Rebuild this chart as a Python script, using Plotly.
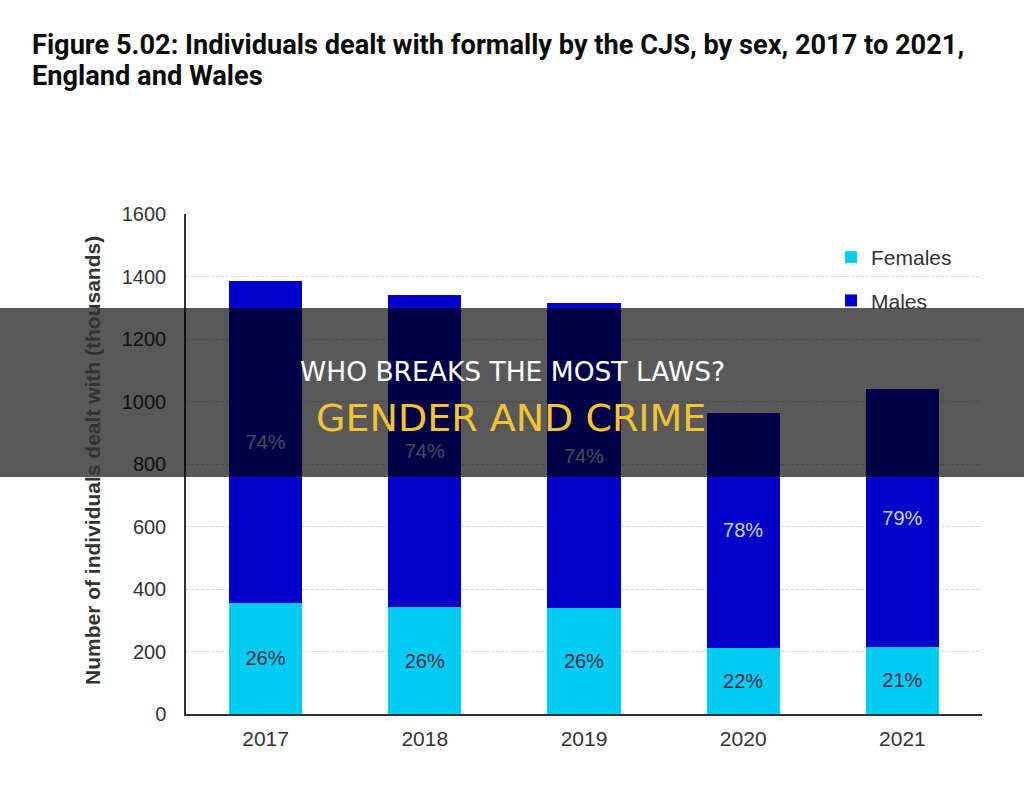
import plotly.graph_objects as go

years = ["2017", "2018", "2019", "2020", "2021"]
females = [356, 342, 339, 212, 215]
males = [1029, 999, 976, 751, 825]
female_pct = ["26%", "26%", "26%", "22%", "21%"]
male_pct = ["74%", "74%", "74%", "78%", "79%"]
y_ticks = [0, 200, 400, 600, 800, 1000, 1200, 1400, 1600]

W, H = 1024, 794
L, R, T, B = 186, 42, 214, 80
pw, ph = W - L - R, H - T - B


def px(x):
    return (x - L) / pw


def py(y):
    return (H - B - y) / ph


fig = go.Figure()
fig.add_trace(go.Bar(
    x=years, y=females, name="Females", marker_color="#00ccf5",
    marker_line_width=0, width=0.46, legendgroup="f",
    text=female_pct, textposition="inside", insidetextanchor="middle",
    textfont=dict(family="Liberation Sans", size=20, color="#1c2a44"),
))
fig.add_trace(go.Bar(
    x=years, y=males, name="Males", marker_color="#0000cc",
    marker_line_width=0, width=0.46, legendgroup="m",
    text=male_pct, textposition="inside", insidetextanchor="middle",
    textfont=dict(family="Liberation Sans", size=20, color="#cdd3f2"),
))

fig.update_layout(
    width=W, height=H, barmode="stack",
    margin=dict(l=L, r=R, t=T, b=B, autoexpand=False),
    paper_bgcolor="white", plot_bgcolor="white",
    showlegend=True,
    legend=dict(x=px(831), y=py(237), xanchor="left", yanchor="top",
                traceorder="grouped", tracegroupgap=13,
                font=dict(family="Liberation Sans", size=21, color="#333333"),
                bgcolor="rgba(0,0,0,0)"),
    xaxis=dict(showline=True, linecolor="#333333", linewidth=1.5,
               tickfont=dict(family="Liberation Sans", size=21, color="#333333"),
               ticks="", ticklabelstandoff=5, showgrid=False),
    yaxis=dict(range=[0, 1600], tickvals=y_ticks, showline=True,
               linecolor="#333333", linewidth=1.5,
               tickfont=dict(family="Liberation Sans", size=20, color="#333333"),
               ticks="", ticklabelstandoff=14,
               showgrid=True, gridcolor="#d6d6d6", gridwidth=1,
               griddash="3px,2px", zeroline=False),
    shapes=[dict(type="rect", xref="paper", yref="paper",
                 x0=px(-10), x1=px(W + 10), y0=py(477), y1=py(308),
                 fillcolor="rgba(0,0,0,0.65)", line=dict(width=0),
                 layer="above")],
    annotations=[
        dict(text="<b>Figure 5.02: Individuals dealt with formally by the CJS, by sex, 2017 to 2021,</b>",
             xref="paper", yref="paper", x=px(30), y=py(45),
             xanchor="left", yanchor="middle", align="left", showarrow=False,
             font=dict(family="Roboto", size=27.2, color="#0b0c0c")),
        dict(text="<b>England and Wales</b>",
             xref="paper", yref="paper", x=px(30), y=py(76),
             xanchor="left", yanchor="middle", align="left", showarrow=False,
             font=dict(family="Roboto", size=27.2, color="#0b0c0c")),
        dict(text="<b>Number of individuals dealt with (thousands)</b>",
             xref="paper", yref="paper", x=px(92), y=py(461),
             xanchor="center", yanchor="middle", textangle=-90,
             showarrow=False,
             font=dict(family="Liberation Sans", size=21, color="#333333")),
        dict(text="WHO BREAKS THE MOST LAWS?",
             xref="paper", yref="paper", x=px(512), y=py(371),
             xanchor="center", yanchor="middle", showarrow=False,
             font=dict(family="DejaVu Sans", size=26.5, color="#ffffff")),
        dict(text="GENDER AND CRIME",
             xref="paper", yref="paper", x=px(511), y=py(418),
             xanchor="center", yanchor="middle", showarrow=False,
             font=dict(family="DejaVu Sans", size=38, color="#f4c430")),
    ],
)

fig.write_html("out.html", config={"displayModeBar": False},
               post_script="document.body.style.margin='0';")
